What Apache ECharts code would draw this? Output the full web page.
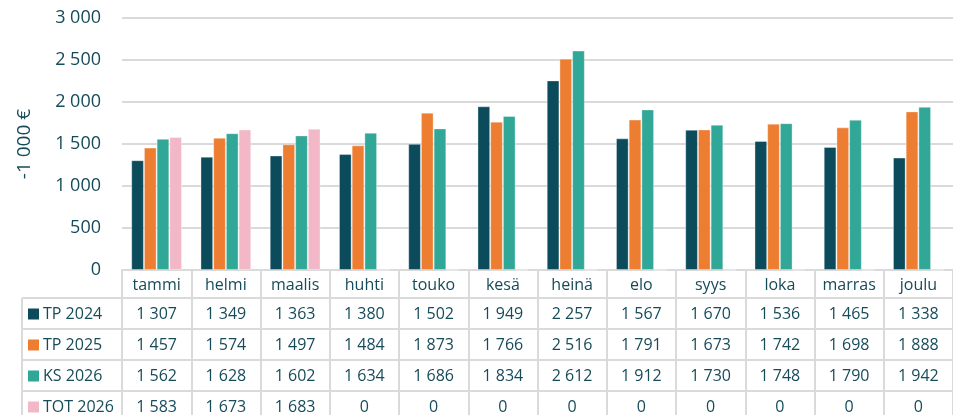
<!DOCTYPE html>
<html>
<head>
<meta charset="utf-8">
<script src="https://cdn.jsdelivr.net/npm/echarts@6/dist/echarts.min.js"></script>
<style>
  html, body { margin: 0; padding: 0; background: #fff; }
  #main { width: 953px; height: 415px; }
</style>
</head>
<body>
<div id="main"></div>
<script>
// kuukaudet ja sarjat
const months = ['tammi', 'helmi', 'maalis', 'huhti', 'touko', 'kesä', 'heinä', 'elo', 'syys', 'loka', 'marras', 'joulu'];
const seriesNames = ['TP 2024', 'TP 2025', 'KS 2026', 'TOT 2026'];
const tp2024 = [1307, 1349, 1363, 1380, 1502, 1949, 2257, 1567, 1670, 1536, 1465, 1338];
const tp2025 = [1457, 1574, 1497, 1484, 1873, 1766, 2516, 1791, 1673, 1742, 1698, 1888];
const ks2026 = [1562, 1628, 1602, 1634, 1686, 1834, 2612, 1912, 1730, 1748, 1790, 1942];
const tot2026 = [1583, 1673, 1683, 0, 0, 0, 0, 0, 0, 0, 0, 0];
const colors = ['#0b4b5c', '#ed7d31', '#31a797', '#f2b8c8'];

const allData = [tp2024, tp2025, ks2026, tot2026];
const textColor = '#164b5a';
const lineColor = '#dadada';
const font = 'Open Sans';

function fmt(v) {
    return String(v).replace(/\B(?=(\d{3})+(?!\d))/g, ' ');
}

const chart = echarts.init(document.getElementById('main'));

// taulukon rivit = lisä-x-akselit samassa gridissä
const rowAxes = allData.map((arr, i) => ({
    type: 'category',
    data: arr.map(fmt),
    position: 'bottom',
    offset: 29 + i * 31,
    axisLine: { show: false },
    axisTick: { show: false },
    splitLine: { show: false },
    axisLabel: {
        interval: 0, margin: 15, verticalAlign: 'middle',
        color: textColor, fontFamily: font, fontSize: 16
    }
}));

const tableLines = [298, 329, 360, 391].map(y => ({
    type: 'line',
    shape: { x1: 22, y1: y, x2: 953, y2: y },
    style: { stroke: lineColor, lineWidth: 2 }
}));
tableLines.push({
    type: 'line',
    shape: { x1: 22, y1: 298, x2: 22, y2: 415 },
    style: { stroke: lineColor, lineWidth: 2 }
});

// selitteet taulukon vasempaan sarakkeeseen
const legendCells = [];
seriesNames.forEach((name, i) => {
    const cy = 314 + i * 31;
    legendCells.push({
        type: 'rect',
        shape: { x: 28, y: cy - 5.5, width: 11, height: 11 },
        style: { fill: colors[i] }
    });
    legendCells.push({
        type: 'text',
        x: 43, y: cy,
        style: {
            text: name, fill: textColor, font: '16px "' + font + '"',
            verticalAlign: 'middle', align: 'left'
        }
    });
});

const option = {
    animation: false,
    textStyle: { fontFamily: font },
    grid: { left: 122, top: 18, width: 840, height: 252 },
    xAxis: [{
        type: 'category',
        data: months,
        axisLine: { show: true, lineStyle: { color: lineColor, width: 2 } },
        axisTick: { show: true, length: 150, lineStyle: { color: lineColor, width: 2 } },
        axisLabel: {
            interval: 0, margin: 15, verticalAlign: 'middle',
            color: textColor, fontFamily: font, fontSize: 16
        }
    }].concat(rowAxes),
    yAxis: {
        type: 'value',
        min: 0,
        max: 3000,
        interval: 500,
        name: '-1 000 €',
        nameLocation: 'middle',
        nameGap: 88,
        nameTextStyle: { color: textColor, fontFamily: font, fontSize: 19 },
        axisLine: { show: false },
        axisTick: { show: false },
        axisLabel: { color: textColor, fontFamily: font, fontSize: 18, margin: 21, formatter: fmt },
        splitLine: { lineStyle: { color: lineColor, width: 2 } }
    },
    series: seriesNames.map((name, i) => ({
        name: name,
        type: 'bar',
        data: allData[i],
        barWidth: 12.7,
        barGap: '0%',
        itemStyle: { color: colors[i], borderColor: 'rgba(255,255,255,0.35)', borderWidth: 1 }
    })),
    graphic: tableLines.concat(legendCells)
};

chart.setOption(option);
</script>
</body>
</html>
